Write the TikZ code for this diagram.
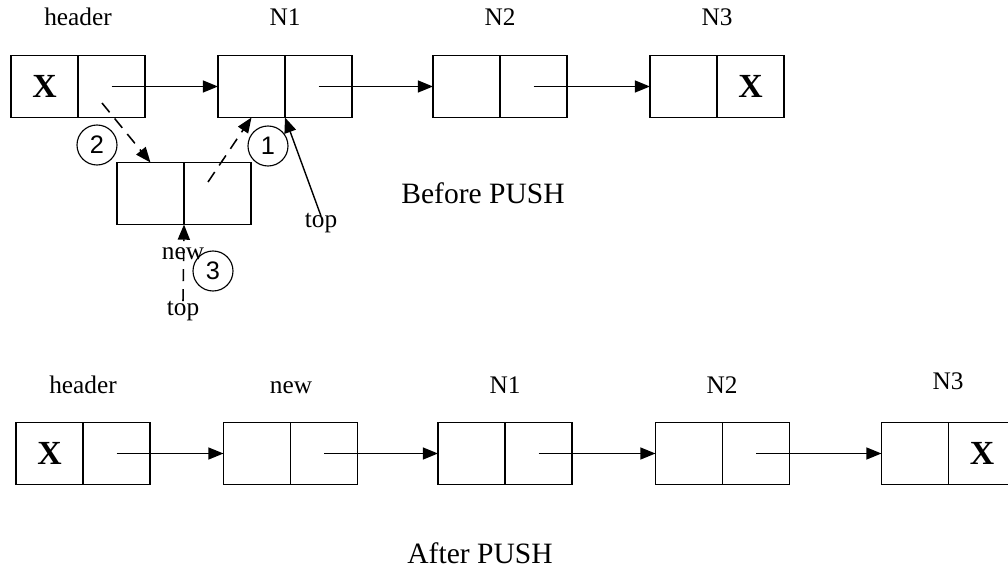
\documentclass[tikz,border=0pt]{standalone}
\usepackage{fontspec}
\setmainfont{Liberation Serif}
\newfontfamily\numfont{Liberation Sans}
\usetikzlibrary{arrows.meta,positioning}

\tikzset{
    cell/.style={draw, line width=1.1pt, minimum width=1.675cm, minimum height=1.55cm, inner sep=0pt, outer sep=0pt},
    xcell/.style={cell, font=\fontsize{24}{28}\selectfont\bfseries},
    lbl/.style={inner sep=1pt, text height=0.68em, text depth=0.22em, font=\fontsize{18}{22}\selectfont},
    caption/.style={font=\fontsize{21}{25}\selectfont},
    ptr/.style={line width=1.1pt, -{Triangle[length=0.38cm, width=0.3cm]}},
    dptr/.style={ptr, dash pattern=on 0.3cm off 0.2cm},
    stepno/.style={circle, draw, line width=0.8pt, minimum size=1cm, inner sep=0pt, font=\numfont\fontsize{18}{22}\selectfont},
}

\begin{document}
\begin{tikzpicture}[x=0.025cm, y=-0.025cm]
\useasboundingbox (0,0) rectangle (1008,571);

% ---- Before PUSH ----
\node[xcell] (hd) at (44.5,86.5) {X};
\node[cell, right=0pt of hd] (hp) {};
\node[cell] (n1d) at (251.5,86.5) {};
\node[cell, right=0pt of n1d] (n1p) {};
\node[cell] (n2d) at (466.5,86.5) {};
\node[cell, right=0pt of n2d] (n2p) {};
\node[cell] (n3d) at (683.5,86.5) {};
\node[xcell, right=0pt of n3d] (n3p) {X};

% new node, not yet linked
\node[cell] (nwd) at (150.5,193.5) {};
\node[cell, right=0pt of nwd] (nwp) {};

% Labels
\node[lbl] (hdlbl) at (78,22) {header};
\node[lbl] (n1lbl) at (285,22) {N1};
\node[lbl] (n2lbl) at (500,22) {N2};
\node[lbl] (n3lbl) at (717,22) {N3};
\node[lbl] (nwlbl) at (183,256) {new};
\node[lbl] (topa) at (321,224) {top};
\node[lbl, inner sep=3pt] (topb) at (183,312) {top};
\node[caption] (before) at (483,193) {Before PUSH};

% Links
\draw[ptr] (hp.center) -- (n1d.west);
\draw[ptr] (n1p.center) -- (n2d.west);
\draw[ptr] (n2p.center) -- (n3d.west);
\draw[ptr, line width=1pt] (topa.north) -- (n1d.south east);

% Steps of the push
\coordinate (s1) at (208,182);
\coordinate (s2) at (102,103);
\draw[dptr] (s1) -- (n1d.south);
\draw[dptr] (s2) -- (nwd.north);
\draw[dptr] (topb.north) -- (nwd.south east);
\node[stepno] (c1) at (268,146) {1};
\node[stepno] (c2) at (97,145) {2};
\node[stepno] (c3) at (213,271) {3};

% ---- After PUSH ----
\node[xcell] (bhd) at (49.5,453.5) {X};
\node[cell, right=0pt of bhd] (bhp) {};
\node[cell] (bnwd) at (257,453.5) {};
\node[cell, right=0pt of bnwd] (bnwp) {};
\node[cell] (bn1d) at (471.5,453.5) {};
\node[cell, right=0pt of bn1d] (bn1p) {};
\node[cell] (bn2d) at (689,453.5) {};
\node[cell, right=0pt of bn2d] (bn2p) {};
\node[cell] (bn3d) at (915,453.5) {};
\node[xcell, right=0pt of bn3d] (bn3p) {X};

% Labels
\node[lbl] (bhdlbl) at (83,390) {header};
\node[lbl] (bnwlbl) at (291,390) {new};
\node[lbl] (bn1lbl) at (505,390) {N1};
\node[lbl] (bn2lbl) at (722,390) {N2};
\node[lbl] (bn3lbl) at (948,386) {N3};
\node[caption] (after) at (480,553) {After PUSH};

% Links
\foreach \a/\b in {bhp/bnwd, bnwp/bn1d, bn1p/bn2d, bn2p/bn3d} {
    \draw[ptr] (\a.center) -- (\b.west);
}

\end{tikzpicture}
\end{document}
